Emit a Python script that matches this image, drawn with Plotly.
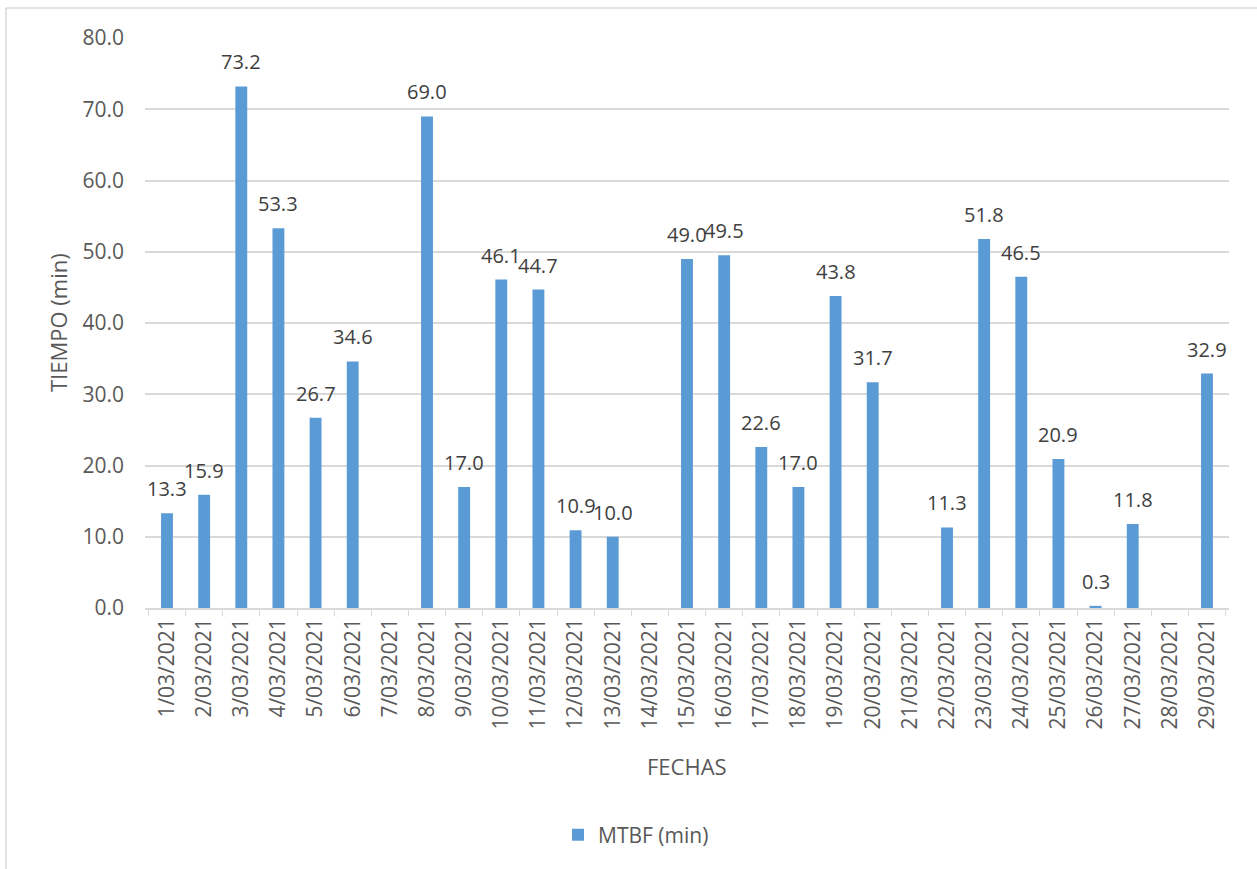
import plotly.graph_objects as go

# Daily MTBF values for March 2021 (None = no data that day)
fechas = [f"{d}/03/2021" for d in range(1, 30)]
mtbf = [13.3, 15.9, 73.2, 53.3, 26.7, 34.6, None, 69.0, 17.0, 46.1,
        44.7, 10.9, 10.0, None, 49.0, 49.5, 22.6, 17.0, 43.8, 31.7,
        None, 11.3, 51.8, 46.5, 20.9, 0.3, 11.8, None, 32.9]
y_ticks = [0, 10, 20, 30, 40, 50, 60, 70, 80]

W, H = 1257, 869
ML, MR, MT, MB = 145, 28, 38, 261
PW, PH = W - ML - MR, H - MT - MB

BAR = "#5B9BD5"
GRID = "#D9D9D9"
TXT = "#595959"
LBL = "#404040"
FONT = "Open Sans, Noto Sans, sans-serif"


def px_x(p):
    return (p - ML) / PW


def px_y(p):
    return (H - MB - p) / PH


fig = go.Figure()
fig.add_trace(go.Bar(
    x=fechas, y=mtbf, name="MTBF (min)",
    marker=dict(color=BAR, line=dict(width=0)),
))

# value labels above each bar
for f, v in zip(fechas, mtbf):
    if v is None:
        continue
    fig.add_annotation(x=f, y=v, text=f"{v:.1f}", showarrow=False,
                       yanchor="bottom", yshift=9,
                       font=dict(family=FONT, size=20, color=LBL))

# axis titles
fig.add_annotation(xref="paper", yref="paper", x=px_x(58), y=px_y(323),
                   text="TIEMPO (min)", textangle=-90, showarrow=False,
                   xanchor="center", yanchor="middle",
                   font=dict(family=FONT, size=22, color=TXT))
fig.add_annotation(xref="paper", yref="paper", x=px_x(687), y=px_y(766),
                   text="FECHAS", showarrow=False,
                   xanchor="center", yanchor="middle",
                   font=dict(family=FONT, size=22, color=TXT))

# chart border (left and top edges visible)
fig.add_shape(type="line", xref="paper", yref="paper",
              x0=px_x(6), x1=px_x(6), y0=px_y(8), y1=px_y(H + 5),
              line=dict(color=GRID, width=1.5))
fig.add_shape(type="line", xref="paper", yref="paper",
              x0=px_x(6), x1=px_x(W + 5), y0=px_y(8), y1=px_y(8),
              line=dict(color=GRID, width=1.5))

fig.update_layout(
    width=W, height=H,
    margin=dict(l=ML, r=MR, t=MT, b=MB, autoexpand=False),
    paper_bgcolor="white", plot_bgcolor="white",
    bargap=0.68,
    font=dict(family=FONT, color=TXT),
    showlegend=True,
    legend=dict(orientation="h", x=px_x(636), xanchor="center",
                y=px_y(835), yanchor="middle",
                font=dict(family=FONT, size=21, color=TXT)),
    xaxis=dict(
        type="category", categoryorder="array", categoryarray=fechas,
        tickangle=-90, tickfont=dict(family=FONT, size=21, color=TXT),
        showline=True, linecolor=GRID, linewidth=1.5,
        ticks="outside", tickson="boundaries", ticklen=6, tickcolor=GRID,
        showgrid=False, automargin=False,
    ),
    yaxis=dict(
        range=[0, 80], tickvals=y_ticks, tickformat=".1f",
        tickfont=dict(family=FONT, size=21, color=TXT),
        showgrid=True, gridcolor=GRID, gridwidth=1.5,
        zeroline=False, showline=False, ticks="",
        ticklabelstandoff=20, automargin=False,
    ),
)

fig.write_html("out.html")
